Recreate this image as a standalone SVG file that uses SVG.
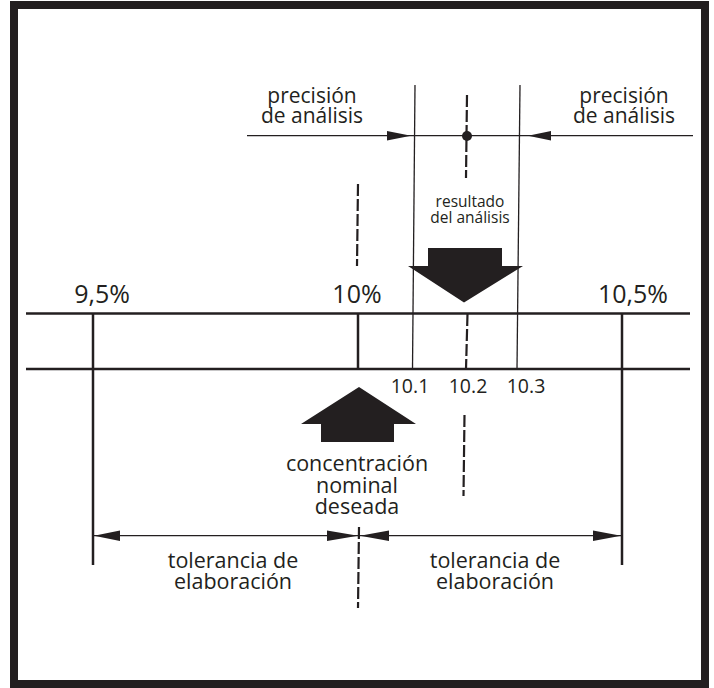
<svg xmlns="http://www.w3.org/2000/svg" width="714" height="688" viewBox="0 0 714 688">
<style>
.t{font-family:"Open Sans","Noto Sans","Liberation Sans",sans-serif;fill:#231f20;text-anchor:middle}
.thick{stroke:#231f20;stroke-width:2.5;fill:none}
.thin{stroke:#231f20;stroke-width:1.3;fill:none}
.dash{stroke:#231f20;stroke-width:2.2;fill:none;stroke-dasharray:12 3}
.fill{fill:#231f20}
</style>
<rect x="0" y="0" width="714" height="688" fill="#fff"/>
<rect id="frame" x="14" y="5" width="691" height="679" fill="none" stroke="#231f20" stroke-width="8"/>
<g id="connectors">
  <line class="thick" x1="26" y1="313.5" x2="690" y2="313.5"/>
  <line class="thick" x1="26" y1="369" x2="690" y2="369"/>
  <line class="thick" x1="93" y1="313" x2="93" y2="565"/>
  <line class="thick" x1="622" y1="313" x2="622" y2="565"/>
  <line class="thick" x1="358" y1="313" x2="358" y2="369"/>
  <line class="dash" x1="358" y1="184" x2="357" y2="266"/>
  <line class="dash" x1="359" y1="527" x2="358" y2="608"/>
  <line class="thin" x1="415" y1="85" x2="412.5" y2="369"/>
  <line class="thin" x1="520" y1="85" x2="517" y2="369"/>
  <line class="dash" x1="467" y1="95" x2="466" y2="178"/>
  <line class="dash" x1="467.5" y1="314" x2="466" y2="369"/>
  <line class="dash" x1="464.5" y1="415" x2="463.5" y2="496"/>
  <line class="thin" x1="247" y1="135.7" x2="693" y2="135.7"/>
  <circle class="fill" cx="467" cy="136" r="5"/>
  <polygon class="fill" points="387,131 411,135.7 387,140.5"/>
  <polygon class="fill" points="551,131 528,135.7 551,140.5"/>
  <line class="thin" x1="93" y1="535.7" x2="622" y2="535.7"/>
  <polygon class="fill" points="120,530.5 94,535.7 120,541"/>
  <polygon class="fill" points="593,530.5 621,535.7 593,541"/>
  <polygon class="fill" points="327,530.5 358,535.7 327,541"/>
  <polygon class="fill" points="389,530.5 360,535.7 389,541"/>
</g>
<g id="down-arrow">
  <polygon class="fill" points="428,248 502,248 502,266 523,266 464,302.5 408,266 428,266"/>
</g>
<g id="up-arrow">
  <polygon class="fill" points="359,387 416,424 394,424 394,442 321,442 321,424 301,424"/>
</g>
<g id="labels-top">
  <text class="t" x="312" y="103" font-size="21">precisión</text>
  <text class="t" x="312" y="123" font-size="21">de análisis</text>
  <text class="t" x="624" y="103" font-size="21">precisión</text>
  <text class="t" x="624" y="123" font-size="21">de análisis</text>
  <text class="t" x="470" y="207" font-size="15.5">resultado</text>
  <text class="t" x="470" y="223" font-size="15.5">del análisis</text>
</g>
<g id="labels-scale">
  <text class="t" x="102" y="303" font-size="25">9,5%</text>
  <text class="t" x="357" y="303" font-size="25">10%</text>
  <text class="t" x="633" y="303" font-size="25">10,5%</text>
  <text class="t" x="410" y="393" font-size="19.5">10.1</text>
  <text class="t" x="468" y="393" font-size="19.5">10.2</text>
  <text class="t" x="526" y="393" font-size="19.5">10.3</text>
</g>
<g id="labels-bottom">
  <text class="t" x="357" y="471" font-size="21.5">concentración</text>
  <text class="t" x="357" y="493" font-size="21.5">nominal</text>
  <text class="t" x="357" y="514" font-size="21.5">deseada</text>
  <text class="t" x="233" y="568" font-size="21.5">tolerancia de</text>
  <text class="t" x="233" y="589" font-size="21.5">elaboración</text>
  <text class="t" x="495" y="568" font-size="21.5">tolerancia de</text>
  <text class="t" x="495" y="589" font-size="21.5">elaboración</text>
</g>
</svg>
